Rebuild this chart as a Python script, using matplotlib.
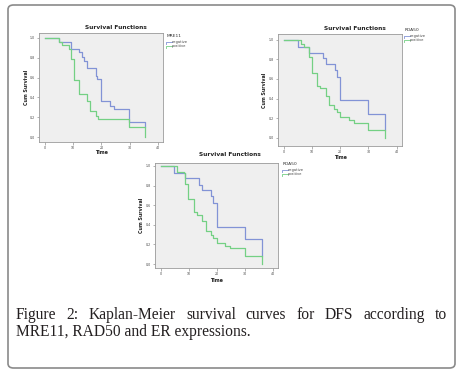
import matplotlib
matplotlib.use("Agg")
import matplotlib.pyplot as plt
from matplotlib.patches import FancyBboxPatch
from matplotlib.lines import Line2D

W, H = 461, 375

# ---------------- data ----------------
titles = ["Survival Functions", "Survival Functions", "Survival Functions"]
legend_titles = ["MRE11", "RDA50", "RDA50"]
group_labels = ["negative", "positive"]
x_ticks = [0, 10, 20, 30, 40]
y_ticks = [0.0, 0.2, 0.4, 0.6, 0.8, 1.0]

mre11_neg_t = [0, 5, 9.2, 12, 13, 14, 15, 18, 18.6, 19.7, 23, 24.6, 29.7, 35.6, 35.6]
mre11_neg_s = [1.0, 0.96, 0.89, 0.855, 0.81, 0.77, 0.70, 0.62, 0.585, 0.36, 0.31, 0.28, 0.15, 0.15, 0.10]
mre11_pos_t = [0, 5, 6, 8.4, 9.3, 10.2, 12, 15, 16, 18, 18.8, 29.7, 35.6, 35.6]
mre11_pos_s = [1.0, 0.96, 0.93, 0.89, 0.79, 0.58, 0.43, 0.365, 0.26, 0.21, 0.18, 0.105, 0.105, 0.0]

rad50_neg_t = [0, 5.1, 8.9, 14, 15, 18.1, 18.8, 19.9, 29.9, 35.9, 35.9]
rad50_neg_s = [1.0, 0.93, 0.87, 0.81, 0.755, 0.69, 0.625, 0.385, 0.24, 0.24, 0.08]
rad50_pos_t = [0, 5.9, 7.1, 8.9, 9.9, 11.8, 12.8, 14.9, 15.9, 17.9, 18.8, 19.9, 23, 24.9, 29.9, 35.9, 35.9]
rad50_pos_s = [1.0, 0.96, 0.93, 0.82, 0.665, 0.53, 0.505, 0.43, 0.335, 0.29, 0.265, 0.21, 0.18, 0.155, 0.08, 0.08, 0.0]

er_neg_t = [0, 4.9, 8.8, 13.8, 14.8, 17.9, 18.8, 20, 29.9, 36, 36]
er_neg_s = [1.0, 0.93, 0.875, 0.81, 0.75, 0.69, 0.625, 0.375, 0.255, 0.255, 0.08]
er_pos_t = [0, 5.7, 8.5, 8.8, 9.9, 11.9, 12.9, 14.9, 16, 17.9, 18.8, 20, 23, 24.8, 29.9, 36, 36]
er_pos_s = [1.0, 0.94, 0.925, 0.82, 0.66, 0.53, 0.50, 0.435, 0.34, 0.30, 0.265, 0.21, 0.185, 0.16, 0.08, 0.08, 0.0]

caption_line1 = ["Figure", "2:", "Kaplan-Meier", "survival", "curves", "for", "DFS", "according", "to"]
caption_line2 = "MRE11, RAD50 and ER expressions."

blue = "#8293d6"
green = "#74d084"

fig = plt.figure(figsize=(W / 100, H / 100), dpi=100)
fig.patch.set_facecolor("white")

def fx(x):
    return x / W

def fy(y):
    return 1 - y / H

# outer rounded frame
frame = FancyBboxPatch((fx(8), fy(368)), fx(455) - fx(8), fy(5) - fy(368),
                       boxstyle="round,pad=0,rounding_size=0.012",
                       transform=fig.transFigure, facecolor="none",
                       edgecolor="#8a8a8a", linewidth=1.2)
fig.patches.append(frame)

panels = [
    dict(box=(39, 33, 163, 142), xlim=(-2.1, 41.8), ylim=(-0.05, 1.05),
         title=(116, 30), ylab=26, xlab=153, leg=(167, 36),
         neg=(mre11_neg_t, mre11_neg_s), pos=(mre11_pos_t, mre11_pos_s)),
    dict(box=(278, 34, 402, 146), xlim=(-2.1, 41.9), ylim=(-0.085, 1.06),
         title=(355, 31), ylab=264, xlab=157.5, leg=(405, 30),
         neg=(rad50_neg_t, rad50_neg_s), pos=(rad50_pos_t, rad50_pos_s)),
    dict(box=(155, 163, 278, 268), xlim=(-2.0, 41.8), ylim=(-0.04, 1.03),
         title=(230, 157), ylab=141, xlab=280, leg=(283, 164),
         neg=(er_neg_t, er_neg_s), pos=(er_pos_t, er_pos_s)),
]

for i, p in enumerate(panels):
    l, t, r, b = p["box"]
    ax = fig.add_axes([fx(l), fy(b), fx(r) - fx(l), fy(t) - fy(b)])
    ax.set_facecolor("#efefef")
    ax.step(p["neg"][0], p["neg"][1], where="post", color=blue, lw=0.9)
    ax.step(p["pos"][0], p["pos"][1], where="post", color=green, lw=0.9)
    ax.set_xlim(*p["xlim"])
    ax.set_ylim(*p["ylim"])
    ax.set_xticks(x_ticks)
    ax.set_yticks(y_ticks)
    ax.set_xticklabels([str(v) for v in x_ticks])
    ax.set_yticklabels(["%.1f" % v for v in y_ticks])
    ax.tick_params(length=1.8, width=0.4, colors="#777777", labelsize=2.3, pad=1.2,
                   labelcolor="#444444")
    for s in ax.spines.values():
        s.set_color("#9a9a9a")
        s.set_linewidth(0.6)
    tx, ty = p["title"]
    fig.text(fx(tx), fy(ty), titles[i], ha="center", va="bottom",
             fontsize=4.2, fontweight="bold", color="#222222")
    fig.text(fx(p["ylab"]), fy((t + b) / 2), "Cum Survival", rotation=90,
             ha="center", va="center", fontsize=3.4, fontweight="bold", color="#222222")
    fig.text(fx((l + r) / 2), fy(p["xlab"]), "Time", ha="center", va="center",
             fontsize=3.4, fontweight="bold", color="#222222")
    lx, ly = p["leg"]
    fig.text(fx(lx), fy(ly), legend_titles[i], ha="left", va="center",
             fontsize=3.2, color="#333333")
    for j, (lab, col) in enumerate(zip(group_labels, [blue, green])):
        yy = ly + 6 + j * 4
        fig.lines.append(Line2D([fx(lx - 1), fx(lx - 1), fx(lx + 5)],
                                [fy(yy + 1.5), fy(yy), fy(yy)],
                                transform=fig.transFigure, color=col, lw=0.6))
        fig.text(fx(lx + 5), fy(yy), lab, ha="left", va="center",
                 fontsize=2.6, color="#444444")

# caption, justified first line
cap_font = dict(family="Liberation Serif", color="#231f20")
renderer = fig.canvas.get_renderer()
probe = fig.text(0, 0, caption_line2, fontsize=10, **cap_font)
w10 = probe.get_window_extent(renderer).width
probe.remove()
fs = 10 * 236 / w10

left_px, right_px = 16, 447
words = [fig.text(0, 0, w, fontsize=fs, va="baseline", ha="left", **cap_font) for w in caption_line1]
widths = [w.get_window_extent(renderer).width for w in words]
gap = (right_px - left_px - sum(widths)) / (len(words) - 1)
x = left_px
for w, wd in zip(words, widths):
    w.set_position((fx(x), fy(319)))
    x += wd + gap
fig.text(fx(left_px), fy(336.5), caption_line2, fontsize=fs, va="baseline", ha="left", **cap_font)

fig.savefig("out.png", dpi=100)
